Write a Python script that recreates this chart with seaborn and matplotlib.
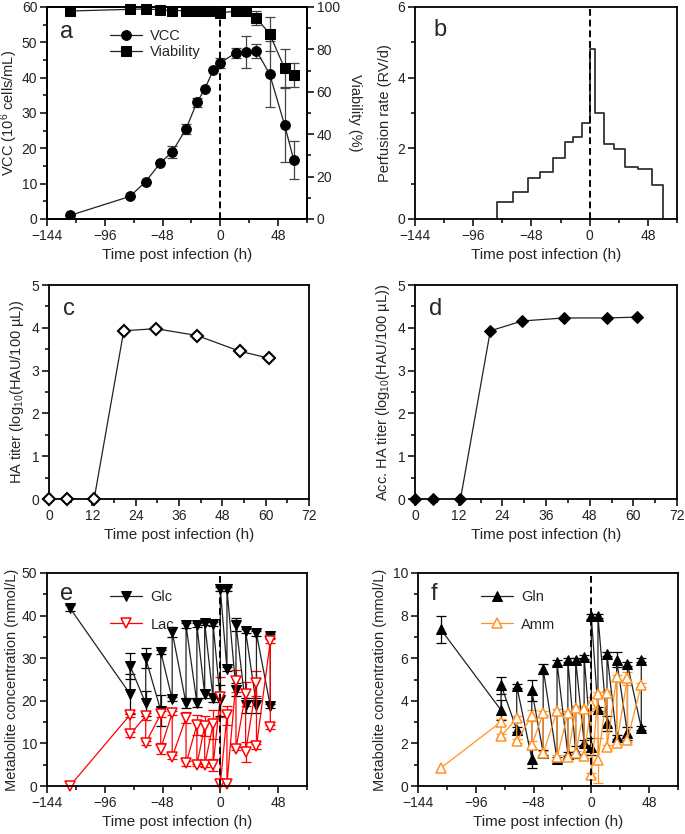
import numpy as np
import pandas as pd
import matplotlib
matplotlib.use('Agg')
import matplotlib.pyplot as plt
from matplotlib.ticker import MultipleLocator
import seaborn as sns

sns.set_theme(style='ticks')
plt.rcParams['font.family'] = ['Liberation Sans', 'DejaVu Sans']
plt.rcParams['mathtext.fontset'] = 'custom'
plt.rcParams['mathtext.rm'] = 'Liberation Sans'
plt.rcParams['mathtext.it'] = 'Liberation Sans'
plt.rcParams['mathtext.bf'] = 'Liberation Sans'

# ---- panel a: cell growth ----
t_cell = [-125, -75, -62, -50, -40, -28.5, -19.5, -13, -6, 0, 12.7, 21, 30, 41, 53.4, 61]
vcc = [1.0, 6.4, 10.6, 15.8, 19.0, 25.5, 33.0, 36.7, 42.1, 44.2, 47.0, 47.2, 47.6, 41.0, 26.6, 16.7]
vcc_err = [0, 0, 0, 0, 1.7, 1.5, 1.3, 0, 0, 1.5, 1.5, 4.5, 1.9, 9.4, 10.6, 5.3]
via = [98.1, 98.9, 99.1, 98.7, 98.3, 98.3, 98.0, 98.0, 98.0, 97.3, 98.0, 98.0, 94.8, 87.3, 71.1, 67.9]
via_err = [0, 0, 0, 0, 0, 0, 0, 0, 0, 0, 0, 1.2, 3.5, 8.0, 9.0, 5.5]

# ---- panel b: perfusion rate (level holds from t to next t) ----
perf_t = [-76, -63.5, -51, -41, -30, -20, -14, -6.5, 0, 4, 11.5, 20, 29, 40, 51.5, 60.5]
perf_rate = [0.47, 0.76, 1.16, 1.34, 1.73, 2.18, 2.33, 2.72, 4.81, 3.0, 2.13, 1.99, 1.47, 1.41, 0.96, 0]

# ---- panels c, d: HA titer ----
t_ha = [0, 5, 12.5, 20.7, 29.5, 41, 52.9, 61]
ha = [0, 0, 0, 3.93, 3.98, 3.82, 3.45, 3.29]
acc_ha = [0, 0, 0, 3.93, 4.16, 4.23, 4.23, 4.25]

# ---- panels e, f: metabolites, before / after medium exchange ----
t_met = [-125, -75, -62, -49.5, -40, -28.5, -19.5, -13, -6, 0, 5.5, 13, 21, 30, 41.5]
nan = np.nan
glc_pre = [41.8, 21.6, 19.4, 17.7, 20.4, 19.4, 19.6, 21.6, 20.6, 20.1, 27.5, 22.6, 18.9, 18.9, 18.8]
glc_post = [nan, 28.2, 30.0, 31.5, 36.2, 37.7, 37.8, 38.3, 38.0, 46.2, 46.2, 37.9, 36.4, 35.8, 35.2]
glc_pre_err = [0.8, 4.7, 3.0, 3.6, 0.5, 1.2, 1.0, 1.0, 0.8, 3.7, 0.5, 1.5, 1.7, 1.7, 0.5]
glc_post_err = [0, 3.1, 2.3, 0.5, 1.2, 0.5, 0.5, 0.5, 0.5, 0.5, 0.5, 1.5, 0.5, 0.5, 0.5]
lac_pre = [0, 16.7, 16.4, 16.9, 17.1, 16.0, 14.3, 14.1, 14.5, 21.0, 16.6, 24.7, 21.6, 24.1, 34.0]
lac_post = [nan, 12.1, 10.1, 8.8, 6.8, 5.3, 4.9, 4.9, 4.9, 0.4, 0.4, 8.8, 8.0, 9.3, 13.9]
lac_pre_err = [0, 0.5, 0.8, 0.8, 0.5, 1.3, 2.4, 2.4, 3.4, 4.7, 2.2, 2.6, 2.8, 2.9, 0.5]
lac_post_err = [0, 0.6, 0.5, 1.4, 0.5, 0.6, 0.3, 0.4, 1.4, 0, 0, 0.4, 2.3, 0.5, 0.5]
gln_pre = [7.35, 3.56, 2.65, 1.29, 1.57, 1.25, 1.5, 1.6, 2.04, 1.84, 3.6, 2.94, 2.31, 2.47, 2.73]
gln_post = [nan, 4.74, 4.71, 4.5, 5.49, 5.8, 5.9, 5.92, 6.07, 7.96, 7.99, 6.2, 5.92, 5.73, 5.9]
gln_pre_err = [0.65, 0.47, 0.1, 0.45, 0.1, 0.1, 0.1, 0.3, 0.1, 0.4, 0.1, 0.35, 0.1, 0.3, 0.1]
gln_post_err = [0, 0.4, 0.1, 0.5, 0.25, 0.1, 0.1, 0.1, 0.1, 0.1, 0.1, 0.1, 0.35, 0.1, 0.1]
amm_pre = [0.85, 3.01, 3.17, 3.3, 3.41, 3.52, 3.41, 3.64, 3.6, 3.85, 4.3, 4.35, 5.1, 5.05, 4.74]
amm_post = [nan, 2.34, 2.1, 1.92, 1.53, 1.34, 1.37, 1.53, 1.41, 0.5, 1.21, 1.84, 2.0, 2.18, nan]
amm_pre_err = [0, 0.15, 0.1, 0.26, 0.1, 0.1, 0.1, 0.1, 0.1, 0.35, 0.1, 0.1, 0.1, 0.3, 0.1]
amm_post_err = [0, 0.1, 0.1, 0.2, 0.1, 0.1, 0.1, 0.1, 0.1, 0.1, 1.05, 0.1, 0.1, 0.1, 0]

W, H = 685, 834
fig = plt.figure(figsize=(W / 100, H / 100), dpi=100)


def box(l, t, r, b):
    return fig.add_axes([l / W, 1 - b / H, (r - l) / W, (b - t) / H])


def style(ax, xmaj, xmin, ymaj, ymin):
    ax.xaxis.set_major_locator(MultipleLocator(xmaj))
    ax.xaxis.set_minor_locator(MultipleLocator(xmin))
    ax.yaxis.set_major_locator(MultipleLocator(ymaj))
    ax.yaxis.set_minor_locator(MultipleLocator(ymin))
    ax.tick_params(which='major', length=5, width=1.1, labelsize=10, pad=2, color='black', labelcolor='#222222')
    ax.tick_params(which='minor', length=3, width=1.1, color='black')
    for s in ax.spines.values():
        s.set_linewidth(1.3)
        s.set_color('black')
    ax.set_facecolor('white')


def interleave(pre, post, pre_err, post_err):
    xs, ys, es = [], [], []
    for t, a, b, ea, eb in zip(t_met, pre, post, pre_err, post_err):
        for v, e in ((a, ea), (b, eb)):
            if not np.isnan(v):
                xs.append(t); ys.append(v); es.append(e)
    return pd.DataFrame({'t': xs, 'v': ys, 'e': es})


def errs(ax, df, color):
    d = df[df['e'] > 0]
    ax.errorbar(d['t'], d['v'], yerr=d['e'], fmt='none', ecolor=color,
                elinewidth=0.9, capsize=3.5, capthick=0.9, zorder=2)


xlab = 'Time post infection (h)'
LFS = 10.5

# ===== a =====
ax = box(47, 7, 307, 219)
ax2 = ax.twinx()
cell = pd.DataFrame({'t': t_cell, 'vcc': vcc, 've': vcc_err, 'via': via, 'vie': via_err})
ax.errorbar(cell['t'], cell['vcc'], yerr=cell['ve'], fmt='none', ecolor='#444444',
            elinewidth=0.9, capsize=3.5, capthick=0.9)
ax2.errorbar(cell['t'], cell['via'], yerr=cell['vie'], fmt='none', ecolor='#444444',
             elinewidth=0.9, capsize=3.5, capthick=0.9)
sns.lineplot(data=cell, x='t', y='vcc', ax=ax, color='#222222', lw=0.9, marker='o',
             ms=7, mfc='black', mec='black', estimator=None, sort=False, label='VCC', legend=False)
sns.lineplot(data=cell, x='t', y='via', ax=ax2, color='#222222', lw=0.9, marker='s',
             ms=7, mfc='black', mec='black', estimator=None, sort=False, label='Viability',
             legend=False, clip_on=False)
ax.axvline(0, color='black', ls='--', lw=1.4, dashes=(3.5, 2))
ax.set_xlim(-144, 72)
ax.set_ylim(0, 60)
ax2.set_ylim(0, 100)
style(ax, 48, 24, 10, 5)
style(ax2, 48, 24, 20, 10)
ax.set_xlabel(xlab, fontsize=11, labelpad=4)
ax.set_ylabel('VCC (10$^6$ cells/mL)', fontsize=LFS, labelpad=1)
ax2.set_ylabel('Viability (%)', fontsize=LFS, rotation=270, va='center')
ax2.yaxis.set_label_coords(1.185, 0.5)
ax.text(0.05, 0.88, 'a', transform=ax.transAxes, fontsize=17, va='center')
h = [l for l in ax.get_lines() if l.get_label() == 'VCC'] + [l for l in ax2.get_lines() if l.get_label() == 'Viability']
ax2.legend(handles=h, loc='upper left', bbox_to_anchor=(0.19, 0.96), frameon=False,
           fontsize=10.5, handlelength=2.2, labelspacing=0.15, handletextpad=0.6)

# ===== b =====
ax = box(415, 7, 677, 219)
perf = pd.DataFrame({'t': [perf_t[0]] + perf_t, 'r': [0] + perf_rate})
sns.lineplot(data=perf, x='t', y='r', ax=ax, color='#333333', lw=1.3, drawstyle='steps-post',
             estimator=None, sort=False)
ax.axvline(0, color='black', ls='--', lw=1.4, dashes=(3.5, 2))
ax.set_xlim(-144, 72)
ax.set_ylim(0, 6)
style(ax, 48, 24, 2, 1)
ax.set_xlabel(xlab, fontsize=11, labelpad=4)
ax.set_ylabel('Perfusion rate (RV/d)', fontsize=LFS, labelpad=4)
ax.text(0.07, 0.89, 'b', transform=ax.transAxes, fontsize=17, va='center')

# ===== c =====
ax = box(49, 285, 309, 499)
hadf = pd.DataFrame({'t': t_ha, 'ha': ha, 'acc': acc_ha})
sns.lineplot(data=hadf, x='t', y='ha', ax=ax, color='#222222', lw=0.9, marker='D', ms=6.5,
             mfc='white', mec='black', mew=1.5, estimator=None, sort=False, clip_on=False, zorder=5)
ax.set_xlim(0, 72)
ax.set_ylim(0, 5)
style(ax, 12, 6, 1, 0.5)
ax.set_xlabel(xlab, fontsize=11, labelpad=4)
ax.set_ylabel('HA titer (log$_{10}$(HAU/100 µL))', fontsize=LFS, labelpad=4)
ax.text(0.055, 0.89, 'c', transform=ax.transAxes, fontsize=17, va='center')

# ===== d =====
ax = box(415, 285, 677, 499)
sns.lineplot(data=hadf, x='t', y='acc', ax=ax, color='#222222', lw=0.9, marker='D', ms=6.5,
             mfc='black', mec='black', estimator=None, sort=False, clip_on=False, zorder=5)
ax.set_xlim(0, 72)
ax.set_ylim(0, 5)
style(ax, 12, 6, 1, 0.5)
ax.set_xlabel(xlab, fontsize=11, labelpad=4)
ax.set_ylabel('Acc. HA titer (log$_{10}$(HAU/100 µL))', fontsize=LFS, labelpad=4)
ax.text(0.055, 0.89, 'd', transform=ax.transAxes, fontsize=17, va='center')

# ===== e =====
ax = box(47, 573, 307, 786)
glc = interleave(glc_pre, glc_post, glc_pre_err, glc_post_err)
lac = interleave(lac_pre, lac_post, lac_pre_err, lac_post_err)
errs(ax, glc, 'black')
errs(ax, lac, 'red')
sns.lineplot(data=glc, x='t', y='v', ax=ax, color='#222222', lw=0.9, marker='v', ms=7,
             mfc='black', mec='black', estimator=None, sort=False, label='Glc', clip_on=False)
sns.lineplot(data=lac, x='t', y='v', ax=ax, color='red', lw=0.9, marker='v', ms=7,
             mfc='white', mec='red', mew=1.1, estimator=None, sort=False, label='Lac', clip_on=False)
ax.axvline(0, color='black', ls='--', lw=1.4, dashes=(3.5, 2))
ax.set_xlim(-144, 72)
ax.set_ylim(0, 50)
style(ax, 48, 24, 10, 5)
ax.set_xlabel(xlab, fontsize=11, labelpad=4)
ax.set_ylabel('Metabolite concentration (mmol/L)', fontsize=LFS, labelpad=2)
ax.text(0.05, 0.9, 'e', transform=ax.transAxes, fontsize=17, va='center')
ax.legend(loc='upper left', bbox_to_anchor=(0.19, 0.98), frameon=False, fontsize=10.5,
          handlelength=2.2, labelspacing=0.9, handletextpad=0.6)

# ===== f =====
ax = box(418, 573, 678, 786)
gln = interleave(gln_pre, gln_post, gln_pre_err, gln_post_err)
amm = interleave(amm_pre, amm_post, amm_pre_err, amm_post_err)
errs(ax, gln, 'black')
errs(ax, amm, '#FF9326')
sns.lineplot(data=gln, x='t', y='v', ax=ax, color='#222222', lw=0.9, marker='^', ms=7,
             mfc='black', mec='black', estimator=None, sort=False, label='Gln', clip_on=False)
sns.lineplot(data=amm, x='t', y='v', ax=ax, color='#FF9326', lw=0.9, marker='^', ms=7,
             mfc='white', mec='#FF9326', mew=1.1, estimator=None, sort=False, label='Amm', clip_on=False)
ax.axvline(0, color='black', ls='--', lw=1.4, dashes=(3.5, 2))
ax.set_xlim(-144, 72)
ax.set_ylim(0, 10)
style(ax, 48, 24, 2, 1)
ax.set_xlabel(xlab, fontsize=11, labelpad=4)
ax.set_ylabel('Metabolite concentration (mmol/L)', fontsize=LFS, labelpad=4)
ax.text(0.05, 0.9, 'f', transform=ax.transAxes, fontsize=17, va='center')
ax.legend(loc='upper left', bbox_to_anchor=(0.19, 0.98), frameon=False, fontsize=10.5,
          handlelength=2.2, labelspacing=0.9, handletextpad=0.6)

fig.savefig('out.png', dpi=100)
